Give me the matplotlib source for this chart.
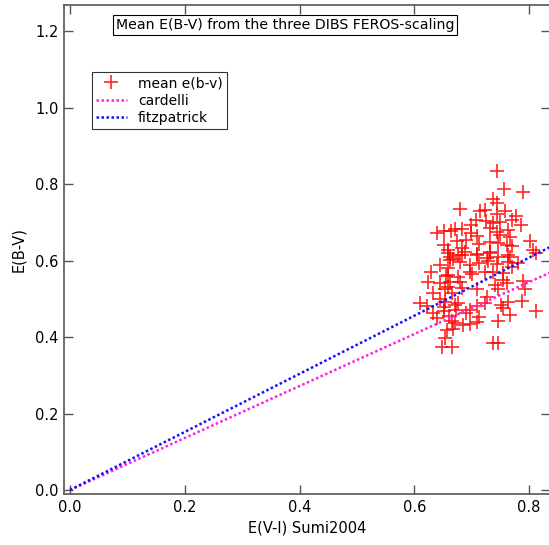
import matplotlib
matplotlib.use("Agg")
import matplotlib.pyplot as plt

# E(V-I) Sumi2004 vs mean E(B-V) from the three DIBs (FEROS scaling)
evi = [0.745, 0.756, 0.789, 0.738, 0.744, 0.680, 0.715, 0.723, 0.758, 0.745,
       0.777, 0.708, 0.725, 0.738, 0.749, 0.770, 0.786, 0.699, 0.683, 0.671,
       0.639, 0.652, 0.664, 0.699, 0.709, 0.744, 0.764, 0.732, 0.749, 0.767,
       0.801, 0.674, 0.732, 0.713, 0.746, 0.761, 0.651, 0.683, 0.659, 0.807,
       0.770, 0.688, 0.732, 0.709, 0.677, 0.662, 0.767, 0.726, 0.659, 0.683,
       0.709, 0.732, 0.764, 0.746, 0.662, 0.680, 0.729, 0.764, 0.813, 0.645,
       0.697, 0.713, 0.744, 0.781, 0.659, 0.770, 0.630, 0.697, 0.723, 0.738,
       0.755, 0.659, 0.677, 0.700, 0.624, 0.645, 0.662, 0.680, 0.755, 0.790,
       0.741, 0.761, 0.659, 0.683, 0.709, 0.793, 0.633, 0.665, 0.746, 0.726,
       0.645, 0.654, 0.677, 0.610, 0.622, 0.651, 0.671, 0.723, 0.764, 0.752,
       0.787, 0.709, 0.697, 0.633, 0.651, 0.755, 0.813, 0.767, 0.639, 0.691,
       0.712, 0.665, 0.746, 0.671, 0.685, 0.697, 0.657, 0.668, 0.654, 0.648,
       0.665, 0.738, 0.746, 0.709, 0.655, 0.668, 0.690, 0.654, 0.672, 0.660]
ebv = [0.835, 0.787, 0.780, 0.761, 0.752, 0.735, 0.731, 0.733, 0.731, 0.721,
       0.717, 0.705, 0.704, 0.698, 0.702, 0.705, 0.693, 0.693, 0.684, 0.682,
       0.673, 0.678, 0.677, 0.672, 0.665, 0.676, 0.680, 0.685, 0.667, 0.661,
       0.651, 0.651, 0.650, 0.644, 0.647, 0.641, 0.641, 0.632, 0.628, 0.628,
       0.637, 0.623, 0.623, 0.615, 0.615, 0.610, 0.609, 0.606, 0.619, 0.615,
       0.617, 0.619, 0.615, 0.610, 0.602, 0.597, 0.600, 0.597, 0.621, 0.589,
       0.589, 0.593, 0.591, 0.593, 0.580, 0.583, 0.571, 0.571, 0.571, 0.569,
       0.567, 0.563, 0.558, 0.565, 0.545, 0.541, 0.545, 0.545, 0.549, 0.548,
       0.536, 0.541, 0.532, 0.528, 0.525, 0.525, 0.515, 0.516, 0.525, 0.506,
       0.499, 0.493, 0.490, 0.488, 0.480, 0.478, 0.484, 0.488, 0.493, 0.484,
       0.495, 0.480, 0.471, 0.464, 0.467, 0.475, 0.469, 0.458, 0.449, 0.462,
       0.453, 0.443, 0.443, 0.438, 0.432, 0.434, 0.419, 0.420, 0.397, 0.375,
       0.375, 0.384, 0.385, 0.440, 0.560, 0.605, 0.655, 0.525, 0.470, 0.455]

# reddening relations
line_x = [0.0, 0.84]
cardelli_y = [0.0, 0.571]
fitz_y = [0.0, 0.638]

xticks = [0.0, 0.2, 0.4, 0.6, 0.8]
yticks = [0.0, 0.2, 0.4, 0.6, 0.8, 1.0, 1.2]

plt.rcParams['font.family'] = ['DejaVu Sans']

fig = plt.figure(figsize=(5.49, 5.45), dpi=100)
ax = fig.add_axes([64 / 549, 1 - 494 / 545, 486 / 549, 489.5 / 545])

ax.plot(evi, ebv, linestyle='none', marker='+', color='red', markersize=9.5,
        markeredgewidth=1.2, alpha=0.85, label='mean e(b-v)')
ax.plot(line_x, cardelli_y, linestyle=(0, (1, 1)), color='#ff22dd', lw=1.8,
        label='cardelli')
ax.plot(line_x, fitz_y, linestyle=(0, (1, 1)), color='#1111ff', lw=1.8,
        label='fitzpatrick')

ax.set_xlim(-0.0105, 0.8366)
ax.set_ylim(-0.0105, 1.27)
ax.set_xticks(xticks)
ax.set_yticks(yticks)
ax.set_xticklabels([f'{v:.1f}' for v in xticks])
ax.set_yticklabels([f'{v:.1f}' for v in yticks])
ax.tick_params(direction='in', length=6.5, width=1, color='#555555',
               top=True, right=True, labelsize=10.5, pad=4)
for s in ax.spines.values():
    s.set_color('#555555')
    s.set_linewidth(1.2)

ax.set_xlabel('E(V-I) Sumi2004', fontsize=10.5, labelpad=4)
ax.set_ylabel('E(B-V)', fontsize=10.5, labelpad=6)

ax.text(0.455, 0.958, 'Mean E(B-V) from the three DIBS FEROS-scaling',
        transform=ax.transAxes, ha='center', va='center', fontsize=10.2,
        bbox=dict(boxstyle='square,pad=0.2', fc='white', ec='black', lw=0.8))

leg = ax.legend(loc='upper left', bbox_to_anchor=(0.0576, 0.862),
                borderaxespad=0, fancybox=False, fontsize=10,
                handlelength=2.2, frameon=True, edgecolor='black',
                borderpad=0.3, labelspacing=0.25)
leg.get_frame().set_linewidth(0.8)

fig.savefig('out.png', dpi=100)
